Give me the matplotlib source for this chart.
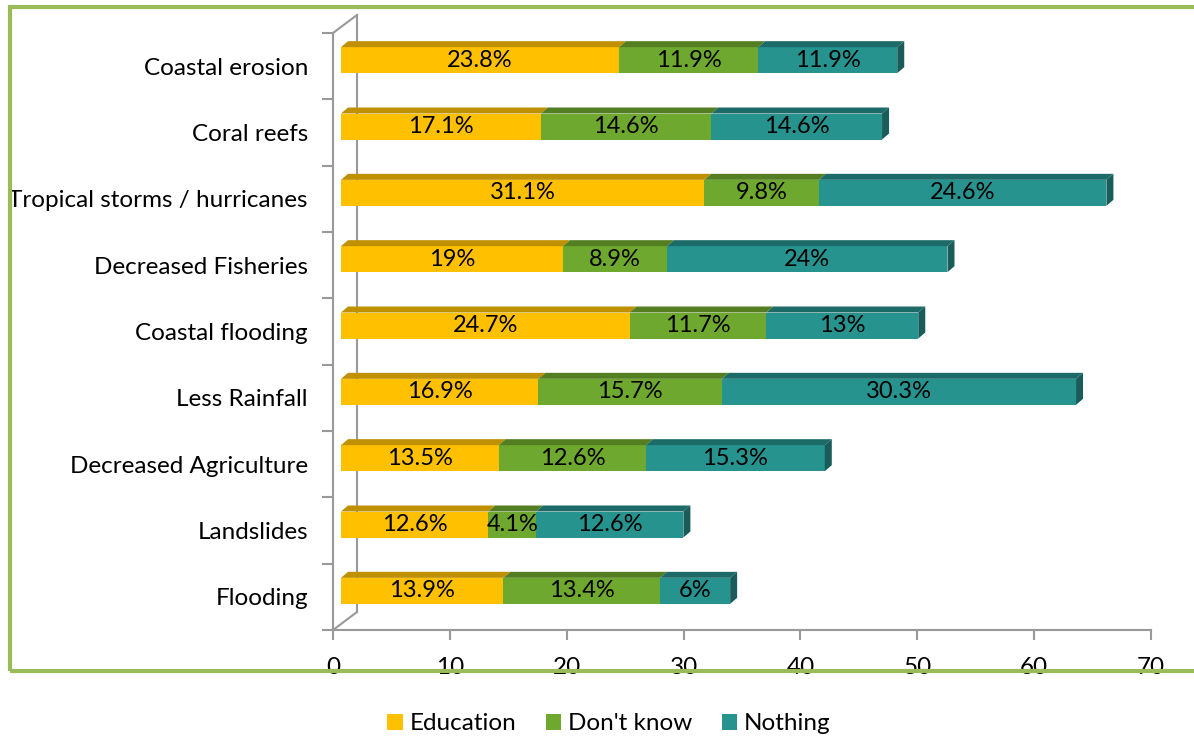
import matplotlib.pyplot as plt
from matplotlib.patches import Polygon, Rectangle
from matplotlib.lines import Line2D

categories = ["Coastal erosion", "Coral reefs", "Tropical storms / hurricanes",
              "Decreased Fisheries", "Coastal flooding", "Less Rainfall",
              "Decreased Agriculture", "Landslides", "Flooding"]
education = [23.8, 17.1, 31.1, 19, 24.7, 16.9, 13.5, 12.6, 13.9]
dont_know = [11.9, 14.6, 9.8, 8.9, 11.7, 15.7, 12.6, 4.1, 13.4]
nothing = [11.9, 14.6, 24.6, 24, 13, 30.3, 15.3, 12.6, 6]

series = [("Education", education, "#FFC000", "#BF9000"),
          ("Don't know", dont_know, "#6FA82E", "#537F22"),
          ("Nothing", nothing, "#26938F", "#1C6B68")]

plt.rcParams['font.family'] = ['Lato', 'DejaVu Sans']

W, H = 1194, 740
fig = plt.figure(figsize=(W / 100, H / 100), dpi=100)

# plot area in pixels
x0, x1, y0, y1 = 333, 1151, 33, 630
ax = fig.add_axes([x0 / W, 1 - y1 / H, (x1 - x0) / W, (y1 - y0) / H])
n = len(categories)
ax.set_xlim(0, 70)
ax.set_ylim(-0.5, n - 0.5)

# pixel -> data units
ux = 70 / (x1 - x0)
uy = n / (y1 - y0)

grey = "#999999"
for s in ["top", "right"]:
    ax.spines[s].set_visible(False)
for s in ["left", "bottom"]:
    ax.spines[s].set_color(grey)
    ax.spines[s].set_linewidth(1.5)

ax.set_xticks(range(0, 71, 10))
ax.tick_params(axis="x", length=7, width=1.5, color=grey, labelsize=17.5, pad=12.5)
ax.set_yticks([i - 0.5 for i in range(n + 1)], minor=False)
ax.set_yticklabels([])
ax.tick_params(axis="y", length=8, width=1.5, color=grey)
ys = [n - 1 - i for i in range(n)]
ax.set_yticks(ys, minor=True)
ax.set_yticklabels(categories, minor=True, fontsize=17.5)
ax.tick_params(axis="y", which="minor", length=0, pad=18)

# back wall of the 3D box
wx, wy = 24 * ux, 18 * uy
kw = dict(color=grey, lw=1.5, clip_on=False)
ax.add_line(Line2D([wx, wx], [-0.5 + wy, n - 0.5 + wy], **kw))
ax.add_line(Line2D([0, wx], [n - 0.5, n - 0.5 + wy], **kw))
ax.add_line(Line2D([0, wx], [-0.5, -0.5 + wy], **kw))

# bars with depth
bx, by = 8 * ux, 6 * uy
dx, dy = 7 * ux, 6 * uy
bh = 26 * uy
for i, y in enumerate(ys):
    left = bx
    yb = y + by - bh / 2
    yt = yb + bh
    for k, (name, vals, face, dark) in enumerate(series):
        v = vals[i]
        right = left + v
        ax.add_patch(Rectangle((left, yb), v, bh, facecolor=face,
                               edgecolor="none", zorder=3))
        ax.add_patch(Polygon([(left, yt), (left + dx, yt + dy),
                              (right + dx, yt + dy), (right, yt)],
                             closed=True, facecolor=dark, edgecolor="none", zorder=3))
        if k == len(series) - 1:
            ax.add_patch(Polygon([(right, yb), (right + dx, yb + dy),
                                  (right + dx, yt + dy), (right, yt)],
                                 closed=True, facecolor="#1A5C59",
                                 edgecolor="none", zorder=3))
        ax.text(left + v / 2, y + by, f"{v:g}%", ha="center", va="center",
                fontsize=17, color="black", zorder=4)
        left = right

handles = [Rectangle((0, 0), 1, 1, facecolor=c) for _, _, c, _ in series]
fig.legend(handles, [s[0] for s in series], loc="center",
           bbox_to_anchor=(609 / W, 1 - 724 / H), ncol=3, frameon=False,
           fontsize=17.5, handlelength=0.62, handleheight=0.62,
           handletextpad=0.3, columnspacing=1.2)

# green frame around the chart
fig.add_artist(Rectangle((10 / W, 1 - 671 / H), 1.2, (671 - 7) / H,
                         transform=fig.transFigure, facecolor="none",
                         edgecolor="#9BBB59", lw=3, clip_on=False, zorder=10))

fig.savefig("out.png", dpi=100)
